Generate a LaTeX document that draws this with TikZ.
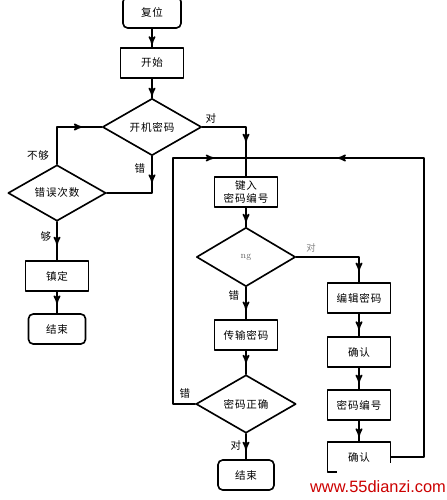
\documentclass[tikz,border=0pt]{standalone}
\usepackage{fontspec}
\newfontfamily\hei{Noto Sans CJK SC}[LetterSpace=8]
\newfontfamily\wmfont{Liberation Sans}
\usepackage{tikz}
\tikzset{>=latex}
\usetikzlibrary{shapes,arrows}
\usetikzlibrary{calc}
\usetikzlibrary{decorations.markings}
\tikzset{
	kuang/.style={draw,rectangle,minimum width=1.89cm,minimum height=0.9cm,inner sep=1pt,font=\hei\fontsize{9}{11}\selectfont},
	yuan/.style={kuang,rounded corners=4pt},
	ling/.style={draw,diamond,inner sep=0pt,font=\hei\fontsize{9}{11}\selectfont},
	biao/.style={inner sep=1pt,font=\hei\fontsize{9}{11}\selectfont},
	jt/.style={postaction={decorate},decoration={markings,mark=at position #1 with {\arrow{stealth'}}}}
}

\begin{document}
\begin{tikzpicture}[line cap=round,line join=round,>=stealth',x=0.03cm,y=-0.03cm,line width=1.4pt]
	\useasboundingbox (0,0) rectangle (447,500);
	% left column
	\node[yuan,minimum width=1.74cm,minimum height=0.93cm] (fw) at (152,12.5) {复位};
	\node[kuang] (ks) at (152,63) {开始};
	\node[ling,minimum width=2.97cm,minimum height=1.71cm] (kj) at (152,127) {开机密码};
	\node[ling,minimum width=2.94cm,minimum height=1.68cm] (cs) at (57,193) {错误次数};
	\node[kuang] (zd) at (57,276) {镇定};
	\node[yuan,minimum width=1.71cm] (js1) at (57,329) {结束};
	% middle column
	\node[kuang,align=center] (jr) at (246,192) {键入\\密码编号};
	\node[ling,minimum width=2.97cm,minimum height=1.77cm,text=gray!80!black,font=\fontsize{8}{8}\selectfont] (pd) at (246,257) {ng};
	\node[kuang] (cs2) at (246,335) {传输密码};
	\node[ling,minimum width=3cm,minimum height=1.74cm] (zq) at (246,404) {密码正确};
	\node[yuan,minimum width=1.68cm] (js2) at (246,475) {结束};
	% right column
	\node[kuang] (bj) at (359,298) {编辑密码};
	\node[kuang] (qr1) at (359,352) {确认};
	\node[kuang] (bh) at (359,405) {密码编号};
	\node[kuang] (qr2) at (359,457) {确认};
	\coordinate (hui) at (246,158);
	\coordinate (you) at (424,158);
	\coordinate (zuo) at (173,158);
	% connectors
	\draw[jt=0.85] (fw) -- (ks);
	\draw[jt=0.9] (ks) -- (kj);
	\draw[jt=0.63] (kj.east) -| (jr.north);
	\draw[jt=0.32] (kj.south) |- (cs.east);
	\draw[jt=0.76] (cs.north) |- (kj.west);
	\draw[jt=0.6] (cs) -- (zd);
	\draw[jt=0.55] (zd) -- (js1);
	\draw[jt=0.75] (jr) -- (pd);
	\draw[jt=0.87] (pd.east) -| (bj.north);
	\draw[jt=0.7] (pd) -- (cs2);
	\draw[jt=0.52] (cs2) -- (zq);
	\draw[jt=0.63] (zq) -- (js2);
	\draw[jt=0.7] (bj) -- (qr1);
	\draw[jt=0.7] (qr1) -- (bh);
	\draw[jt=0.77] (bh) -- (qr2);
	\draw[jt=0.82] (qr2.east) -| (you) -- (hui);
	\draw[jt=0.906] (zq.west) -| (zuo) -- (hui);
	% labels
	\node[biao] (d1) at (211,118) {对};
	\node[biao] (c1) at (140,168) {错};
	\node[biao] (bg) at (38,155) {不够};
	\node[biao] (g) at (46,236) {够};
	\node[biao,text=gray,font=\hei\fontsize{8}{9}\selectfont] (d2) at (311,248) {对};
	\node[biao] (c2) at (234,295) {错};
	\node[biao] (c3) at (185,393) {错};
	\node[biao] (d3) at (236,445) {对};
	% watermark
	\fill[white] (337,463) rectangle (447,500);
	\node[text=red!80!black,font=\wmfont\fontsize{14}{14}\selectfont,inner sep=0pt] (sy) at (378,487) {www.55dianzi.com};
\end{tikzpicture}
\end{document}
